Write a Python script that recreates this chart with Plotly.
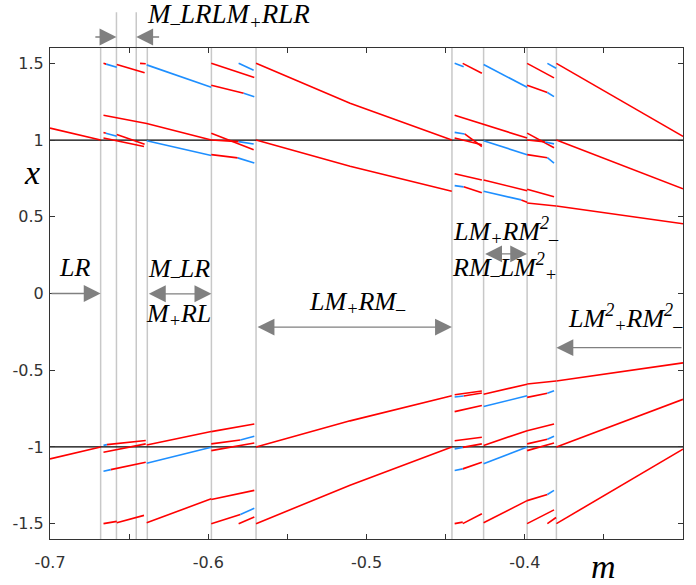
import plotly.graph_objects as go

# ---------------- axis ticks ----------------
m_tickvals = [-0.7, -0.65, -0.6, -0.55, -0.5, -0.45, -0.4, -0.35, -0.3]
m_ticktext = ["-0.7", "", "-0.6", "", "-0.5", "", "-0.4", "", "-0.3"]
x_tickvals = [-1.5, -1, -0.5, 0, 0.5, 1, 1.5]
x_ticktext = ["-1.5", "-1", "-0.5", "0", "0.5", "1", "1.5"]

# ---------------- region boundaries (m) ----------------
boundaries = [-0.668, -0.658, -0.6455, -0.6385, -0.598, -0.5698, -0.446, -0.426, -0.3985, -0.38]
tall_boundaries = [-0.658, -0.6455]

# ---------------- branches: lists of (m, x) points ----------------
red_branches = [
    # LR region
    [(-0.7, 1.078), (-0.668, 1.0)],
    [(-0.7, -1.078), (-0.668, -1.0)],
    # narrow left windows, upper
    [(-0.6662, 1.5), (-0.6645, 1.495)],
    [(-0.6578, 1.493), (-0.6402, 1.439)],
    [(-0.6431, 1.5), (-0.6395, 1.497)],
    [(-0.6662, 1.162), (-0.6389, 1.108), (-0.5981, 1.0)],
    [(-0.6662, 1.05), (-0.6647, 1.045)],
    [(-0.6578, 1.037), (-0.6402, 0.972)],
    [(-0.6662, 1.013), (-0.6406, 0.958)],
    # narrow left windows, lower
    [(-0.6640, -0.985), (-0.6395, -0.958)],
    [(-0.6662, -1.035), (-0.6395, -0.98)],
    [(-0.6616, -1.148), (-0.6395, -1.1)],
    [(-0.6662, -1.5), (-0.6578, -1.485)],
    [(-0.6578, -1.494), (-0.6406, -1.446)],
    [(-0.6389, -0.987), (-0.5981, -0.9)],
    [(-0.6389, -1.494), (-0.5981, -1.338)],
    # window -0.598 .. -0.5698, upper
    [(-0.5981, 1.5), (-0.5709, 1.407)],
    [(-0.5981, 1.357), (-0.5776, 1.305)],
    [(-0.5981, 1.045), (-0.5713, 0.937)],
    [(-0.5981, 1.0), (-0.5808, 0.99)],
    [(-0.5981, 0.905), (-0.5814, 0.884)],
    # window -0.598 .. -0.5698, lower
    [(-0.5981, -0.9), (-0.5709, -0.85)],
    [(-0.5981, -0.98), (-0.5797, -0.955)],
    [(-0.5981, -1.024), (-0.5709, -0.974)],
    [(-0.5981, -1.342), (-0.5709, -1.283)],
    [(-0.5981, -1.5), (-0.5797, -1.44)],
    [(-0.5808, -1.5), (-0.5709, -1.456)],
    # LM+RM- region
    [(-0.5698, 1.5), (-0.5104, 1.24), (-0.4461, 1.0)],
    [(-0.5698, 1.0), (-0.5104, 0.829), (-0.4461, 0.666)],
    [(-0.5698, -1.5), (-0.5104, -1.25), (-0.4461, -1.0)],
    [(-0.5698, -1.0), (-0.5104, -0.83), (-0.4461, -0.667)],
    # right windows, upper
    [(-0.4392, 1.5), (-0.4271, 1.435)],
    [(-0.4443, 1.162), (-0.4260, 1.103), (-0.3985, 1.013)],
    [(-0.438, 1.04), (-0.4271, 0.958)],
    [(-0.4443, 1.013), (-0.4271, 0.97)],
    [(-0.3985, 1.5), (-0.3815, 1.405)],
    [(-0.3985, 1.357), (-0.3857, 1.31)],
    [(-0.3985, 1.045), (-0.3815, 0.95)],
    [(-0.3985, 1.0), (-0.387, 0.987)],
    [(-0.3985, 0.905), (-0.3857, 0.885)],
    [(-0.4443, 0.78), (-0.4271, 0.74)],
    [(-0.4260, 0.74), (-0.3985, 0.67)],
    [(-0.3985, 0.68), (-0.3815, 0.63)],
    [(-0.4386, 0.695), (-0.4271, 0.656)],
    [(-0.4022, 0.61), (-0.3985, 0.595)],
    [(-0.3985, 0.59), (-0.3802, 0.57)],
    # right windows, lower
    [(-0.4443, -0.66), (-0.4271, -0.635)],
    [(-0.4386, -0.668), (-0.4271, -0.648)],
    [(-0.4443, -0.77), (-0.4271, -0.73)],
    [(-0.4260, -0.656), (-0.3985, -0.591)],
    [(-0.3985, -0.59), (-0.3802, -0.57)],
    [(-0.3985, -0.677), (-0.3857, -0.65)],
    [(-0.4443, -0.96), (-0.4271, -0.937)],
    [(-0.4392, -1.003), (-0.4271, -0.98)],
    [(-0.4392, -1.143), (-0.4271, -1.1)],
    [(-0.4260, -0.99), (-0.3985, -0.894)],
    [(-0.3985, -0.894), (-0.3815, -0.85)],
    [(-0.3985, -0.98), (-0.3857, -0.95)],
    [(-0.3985, -1.024), (-0.3815, -0.974)],
    [(-0.4443, -1.5), (-0.4392, -1.49)],
    [(-0.4392, -1.5), (-0.4271, -1.435)],
    [(-0.4260, -1.494), (-0.3985, -1.35)],
    [(-0.3985, -1.35), (-0.3857, -1.31)],
    [(-0.3985, -1.5), (-0.3815, -1.41)],
    [(-0.3857, -1.5), (-0.3802, -1.46)],
    # LM+^2 RM-^2 region
    [(-0.38, 1.5), (-0.3, 1.024)],
    [(-0.38, 1.0), (-0.3, 0.682)],
    [(-0.38, 0.57), (-0.3, 0.455)],
    [(-0.38, -1.5), (-0.3, -1.014)],
    [(-0.38, -1.0), (-0.3, -0.69)],
    [(-0.38, -0.57), (-0.3, -0.452)],
]

blue_branches = [
    [(-0.6645, 1.495), (-0.6578, 1.474)],
    [(-0.6647, 1.045), (-0.6578, 1.025)],
    [(-0.6389, 1.49), (-0.5981, 1.344)],
    [(-0.6389, 0.995), (-0.5981, 0.9)],
    [(-0.6662, -0.99), (-0.6640, -0.985)],
    [(-0.6662, -1.158), (-0.6616, -1.148)],
    [(-0.6389, -1.106), (-0.5981, -1.002)],
    [(-0.5808, 1.5), (-0.5713, 1.455)],
    [(-0.5776, 1.305), (-0.5709, 1.283)],
    [(-0.5808, 0.99), (-0.5713, 0.974)],
    [(-0.5814, 0.884), (-0.5709, 0.851)],
    [(-0.5797, -0.955), (-0.5709, -0.93)],
    [(-0.5797, -1.44), (-0.5709, -1.4)],
    [(-0.4443, 1.5), (-0.4386, 1.478)],
    [(-0.4443, 1.05), (-0.438, 1.04)],
    [(-0.4260, 1.493), (-0.3985, 1.344)],
    [(-0.4260, 0.995), (-0.3985, 0.905)],
    [(-0.3857, 1.5), (-0.3802, 1.468)],
    [(-0.3857, 1.31), (-0.3815, 1.283)],
    [(-0.387, 0.987), (-0.3815, 0.975)],
    [(-0.3857, 0.885), (-0.3815, 0.85)],
    [(-0.4443, 0.703), (-0.4386, 0.695)],
    [(-0.4260, 0.666), (-0.4022, 0.61)],
    [(-0.4443, -0.675), (-0.4386, -0.668)],
    [(-0.4260, -0.736), (-0.3985, -0.667)],
    [(-0.3857, -0.65), (-0.3815, -0.634)],
    [(-0.4443, -1.013), (-0.4392, -1.003)],
    [(-0.4443, -1.154), (-0.4392, -1.143)],
    [(-0.4260, -1.11), (-0.3985, -1.0)],
    [(-0.3857, -0.95), (-0.3815, -0.93)],
    [(-0.3857, -1.31), (-0.3815, -1.283)],
]


def flatten(branches):
    ms, xs = [], []
    for br in branches:
        for m, x in br:
            ms.append(m)
            xs.append(x)
        ms.append(None)
        xs.append(None)
    return ms, xs


fig = go.Figure()
rm, rx = flatten(red_branches)
bm, bx = flatten(blue_branches)
fig.add_trace(go.Scatter(x=rm, y=rx, mode="lines", line=dict(color="#ff0000", width=1.6),
                         showlegend=False, hoverinfo="skip"))
fig.add_trace(go.Scatter(x=bm, y=bx, mode="lines", line=dict(color="#1e8fff", width=1.6),
                         showlegend=False, hoverinfo="skip"))

shapes = []
for b in boundaries:
    shapes.append(dict(type="line", xref="x", yref="paper", x0=b, x1=b, y0=0,
                       y1=1.073 if b in tall_boundaries else 1.0,
                       line=dict(color="#c8c8c8", width=1.5), layer="below"))
for yv in [1, -1]:
    shapes.append(dict(type="line", xref="paper", yref="y", x0=0, x1=1, y0=yv, y1=yv,
                       line=dict(color="black", width=1.2), layer="below"))

tfont = dict(family="Liberation Serif", size=26, color="black", style="italic")
AC = "#808080"


def label(x, y, text, xref="x", yref="y", font=tfont):
    return dict(x=x, y=y, xref=xref, yref=yref, text=text, showarrow=False, font=font,
                xanchor="center", yanchor="middle")


def arrow(xt, yt, xa, ya, both=False, yref="y"):
    d = dict(x=xt, y=yt, xref="x", yref=yref, text="", showarrow=True,
             arrowhead=2, arrowsize=2.6, arrowwidth=1.3, arrowcolor=AC,
             standoff=0, startstandoff=0, arrowside="end+start" if both else "end",
             startarrowhead=2, startarrowsize=2.6, axref="x", ax=xa)
    if yref == "y":
        d.update(ayref="y", ay=ya)
    else:
        d.update(ayref="pixel", ay=0)
    return d


annotations = [
    # region labels
    label(-0.587, 1.066, "M<sub>–</sub>LRLM<sub>+</sub>RLR", yref="paper",
          font=dict(family="Liberation Serif", size=27, color="black", style="italic")),
    label(-0.6843, 0.17, "LR"),
    label(-0.6187, 0.15, "M<sub>–</sub>LR"),
    label(-0.6187, -0.14, "M<sub>+</sub>RL"),
    label(-0.506, -0.06, "LM<sub>+</sub>RM<sub>–</sub>"),
    label(-0.412, 0.41, "LM<sub>+</sub>RM<sup>2</sup><sub>–</sub>"),
    label(-0.4127, 0.17, "RM<sub>–</sub>LM<sup>2</sup><sub>+</sub>"),
    label(-0.3365, -0.16, "LM<sup>2</sup><sub>+</sub>RM<sup>2</sup><sub>–</sub>"),
    # axis titles
    label(-0.028, 0.79, "x", xref="paper",
          font=dict(family="Liberation Serif", size=34, color="black", style="italic")),
    label(-0.3504, -0.057, "m", yref="paper",
          font=dict(family="Liberation Serif", size=34, color="black", style="italic")),
    # arrows
    arrow(-0.668, 0.0, -0.7, 0.0),
    arrow(-0.598, -0.002, -0.6385, -0.002, both=True),
    arrow(-0.446, -0.219, -0.5698, -0.219, both=True),
    arrow(-0.3985, 0.258, -0.426, 0.258, both=True),
    arrow(-0.38, -0.353, -0.3, -0.353),
    arrow(-0.658, 1.0224, -0.6723, 0, yref="paper"),
    arrow(-0.6455, 1.0224, -0.6301, 0, yref="paper"),
]

axis_common = dict(showline=True, linecolor="#333333", linewidth=1.2, mirror="ticks",
                   ticks="inside", ticklen=5, tickwidth=1, tickcolor="#333333",
                   showgrid=False, zeroline=False,
                   tickfont=dict(family="DejaVu Sans", size=16, color="#333333"))

fig.update_layout(
    width=696, height=585,
    margin=dict(l=49, r=12, t=48, b=46),
    paper_bgcolor="white", plot_bgcolor="white",
    xaxis=dict(range=[-0.7, -0.3], tickvals=m_tickvals, ticktext=m_ticktext,
               ticklabelstandoff=9, **axis_common),
    yaxis=dict(range=[-1.6, 1.6], tickvals=x_tickvals, ticktext=x_ticktext,
               ticklabelstandoff=2, **axis_common),
    shapes=shapes,
    annotations=annotations,
)

fig.write_html("out.html")
